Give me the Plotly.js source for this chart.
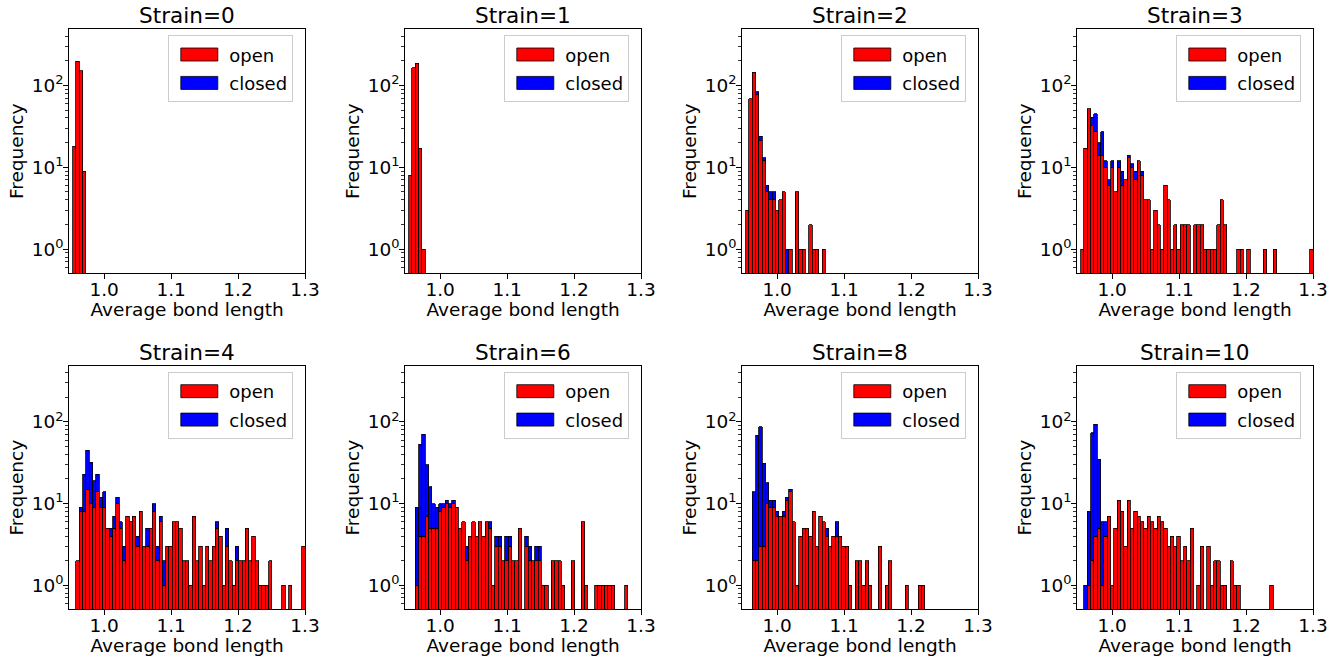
<!DOCTYPE html>
<html><head><meta charset="utf-8">
<script src="https://cdn.plot.ly/plotly-3.0.1.min.js"></script>
<style>html,body{margin:0;padding:0;background:#fff}#chart{width:1344px;height:657px}</style>
</head><body><div id="chart"></div>
<script>
// ---- data ----
const strainLabels = ["Strain=0","Strain=1","Strain=2","Strain=3","Strain=4","Strain=6","Strain=8","Strain=10"];
const seriesNames = ["open","closed"];
// common histogram bins (first edge and width)
const binStart = 0.953;
const binWidth = 0.00496;
const xTickVals = [1.0, 1.1, 1.2, 1.3];
const xTickText = ["1.0", "1.1", "1.2", "1.3"];
const yTickVals = [1, 10, 100];
const yTickText = ["10<sup>0</sup>", "10<sup>1</sup>", "10<sup>2</sup>"];

const open0 = [18,198,151,9];
const closed0 = [0,0,0,0];
const open1 = [8,164,187,17,1];
const closed1 = [0,0,0,0,0];
const open2 = [3,69,145,78,21,12,5,4,4,3, 4,5,0,1,0,5,1,1,0,2, 1,1,0,1];
const closed2 = [0,0,0,6,3,1,1,1,1,0, 0,0,1,0,0,0,0,0,0,0, 0,0,0,0];
const open3 = [1,17,52,32,27,14,14,10,6,10, 5,10,6,7,13,10,7,12,8,4, 4,1,3,2,1,6,4,1,2,1, 2,2,2,0,2,2,2,1,1,1, 1,2,4,2,0,0,0,1,1,0, 1,0,0,0,0,1,0,0,1,0, 0,0,0,0,0,0,0,0,0,1];
const closed3 = [0,0,0,9,18,6,13,2,1,2, 0,2,3,0,1,1,2,0,1,0, 0,0,0,0,0,0,0,0,0,0, 0,0,0,0,0,0,0,0,0,0, 0,0,0,0,0,0,0,0,0,0, 0,0,0,0,0,0,0,0,0,0, 0,0,0,0,0,0,0,0,0,0];
const open4 = [0,2,8,8,15,10,9,14,9,9, 5,4,5,10,5,2,7,6,7,3, 8,3,3,5,8,2,6,1,3,3, 6,6,5,2,2,1,7,2,3,1, 3,2,3,5,4,1,3,2,1,2, 2,2,5,2,4,2,1,1,1,2, 0,0,0,1,0,1,0,0,0,3];
const closed4 = [0,0,1,15,30,22,10,9,3,5, 0,1,2,2,1,1,0,0,0,1, 0,0,2,0,2,1,1,1,0,0, 0,0,0,0,0,0,0,0,0,0, 0,0,0,1,0,0,2,0,0,1, 0,0,0,0,0,0,0,0,0,0, 0,0,0,0,0,0,0,0,0,0];
const open6 = [0,0,1,4,4,7,5,5,5,8, 9,10,9,10,9,5,6,2,4,6, 4,6,4,6,5,1,3,3,2,2, 3,2,2,5,0,3,2,2,2,2, 1,1,0,2,2,2,1,0,0,2, 0,0,6,1,0,0,1,1,1,1, 1,1,0,0,0,1];
const closed6 = [0,0,8,49,67,23,11,5,4,2, 1,1,1,1,0,0,0,1,0,0, 0,0,0,0,1,0,1,1,0,2, 1,0,0,0,0,1,1,0,1,1, 0,0,0,0,0,0,0,0,0,0, 0,0,0,0,0,0,0,0,0,0, 0,0,0,0,0,0];
const open8 = [0,0,2,2,3,3,10,9,9,7, 7,7,11,14,6,1,4,5,5,4, 8,3,7,6,4,3,4,4,4,3, 3,1,0,2,2,1,2,1,0,0, 3,0,1,2,0,0,0,0,1,0, 0,0,1,1];
const closed8 = [0,0,12,67,84,28,8,2,2,1, 0,1,1,1,0,0,0,0,0,0, 0,0,0,0,1,0,0,2,0,0, 0,0,0,0,0,0,0,0,0,0, 0,0,0,0,0,0,0,0,0,0, 0,0,0,0];
const open10 = [0,0,1,2,4,5,1,4,7,1, 5,11,8,3,11,5,8,7,6,5, 7,6,5,7,6,5,3,4,3,4, 2,3,2,5,0,1,3,0,3,1, 2,2,1,1,0,2,1,1,0,0, 0,0,0,0,0,0,0,1];
const closed10 = [0,1,7,72,90,30,5,2,0,0, 0,0,0,0,0,0,0,0,0,0, 0,0,0,0,0,0,0,0,0,0, 0,0,0,0,0,0,0,0,0,0, 0,0,0,0,0,0,0,0,0,0, 0,0,0,0,0,0,0,0];

const openSets = [open0, open1, open2, open3, open4, open6, open8, open10];
const closedSets = [closed0, closed1, closed2, closed3, closed4, closed6, closed8, closed10];

// ---- layout geometry ----
const W = 1344, H = 657;
const colLeft = [69.3, 405.3, 742.3, 1077.3];
const plotW = 235.7;
const rowTop = [29.3, 366];
const rowBot = [273.3, 609.3];
const FONT = "DejaVu Sans";
const RED = "#ff0000", BLUE = "#0000ff";

const data = [];
const layout = {
  width: W, height: H,
  margin: {l:0, r:0, t:0, b:0},
  paper_bgcolor: "#fff", plot_bgcolor: "#fff",
  barmode: "stack", bargap: 0,
  font: {family: FONT, size: 18, color: "#000"},
  annotations: [],
  showlegend: true
};

for (let i = 0; i < 8; i++) {
  const n = i + 1;
  const row = Math.floor(i / 4), col = i % 4;
  const xa = n === 1 ? "x" : "x" + n;
  const ya = n === 1 ? "y" : "y" + n;
  const lg = n === 1 ? "legend" : "legend" + n;
  const op = openSets[i], cl = closedSets[i];
  const xs = op.map((_, k) => binStart + (k + 0.5) * binWidth);
  const toY = arr => arr.map(v => v > 0 ? v : null);
  data.push({
    type: "bar", name: seriesNames[0], x: xs, y: toY(op), width: binWidth,
    xaxis: xa, yaxis: ya, legend: lg, legendgroup: "o" + n, showlegend: true,
    marker: {color: RED, line: {color: "#000", width: 0.8}}, hoverinfo: "skip"
  });
  data.push({
    type: "bar", name: seriesNames[1], x: xs, y: toY(cl), width: binWidth,
    xaxis: xa, yaxis: ya, legend: lg, legendgroup: "c" + n, showlegend: true,
    marker: {color: BLUE, line: {color: "#000", width: 0.8}}, hoverinfo: "skip"
  });

  const x0 = colLeft[col] / W, x1 = (colLeft[col] + plotW) / W;
  const y0 = 1 - rowBot[row] / H, y1 = 1 - rowTop[row] / H;
  const axCommon = {
    showline: true, mirror: true, linecolor: "#000", linewidth: 1,
    ticks: "outside", ticklen: 5, tickwidth: 1, tickcolor: "#000",
    showgrid: false, zeroline: false,
    tickfont: {family: FONT, size: 18.5, color: "#000"}
  };
  layout["xaxis" + (n === 1 ? "" : n)] = Object.assign({}, axCommon, {
    domain: [x0, x1], anchor: ya, range: [0.948, 1.3],
    tickmode: "array", tickvals: xTickVals, ticktext: xTickText,
    ticklabelstandoff: -6,
    title: {text: "Average bond length", font: {family: FONT, size: 18.5, color: "#000"}, standoff: 4}
  });
  layout["yaxis" + (n === 1 ? "" : n)] = Object.assign({}, axCommon, {
    domain: [y0, y1], anchor: xa, type: "log", range: [-0.295, 2.685],
    tickmode: "array", tickvals: yTickVals, ticktext: yTickText,
    ticklabelstandoff: -4,
    minor: {ticks: "outside", ticklen: 3, tickwidth: 0.8, tickcolor: "#000",
            tickvals: [0.6,0.7,0.8,0.9,2,3,4,5,6,7,8,9,20,30,40,50,60,70,80,90,200,300,400]},
    title: {text: "Frequency", font: {family: FONT, size: 18.5, color: "#000"}, standoff: 3}
  });
  layout[lg] = {
    x: (colLeft[col] + 99) / W, y: 1 - (rowTop[row] + 6) / H,
    xanchor: "left", yanchor: "top",
    traceorder: "grouped", tracegroupgap: 2,
    bgcolor: "rgba(255,255,255,0.8)", bordercolor: "#cccccc", borderwidth: 1,
    font: {family: FONT, size: 18, color: "#000"},
    itemwidth: 50
  };
  layout.annotations.push({
    xref: "paper", yref: "paper",
    x: (colLeft[col] + plotW / 2) / W, y: 1 - (rowTop[row] - 14) / H,
    xanchor: "center", yanchor: "middle", showarrow: false,
    text: strainLabels[i], font: {family: FONT, size: 21.6, color: "#000"}
  });
}

Plotly.newPlot("chart", data, layout, {displayModeBar: false, staticPlot: true}).then(function (gd) {
  gd.querySelectorAll(".legendpoints path").forEach(function (p) {
    p.setAttribute("d", "M18.5,6.5H-18.5V-6.5H18.5Z");
  });
});
</script>
</body></html>
